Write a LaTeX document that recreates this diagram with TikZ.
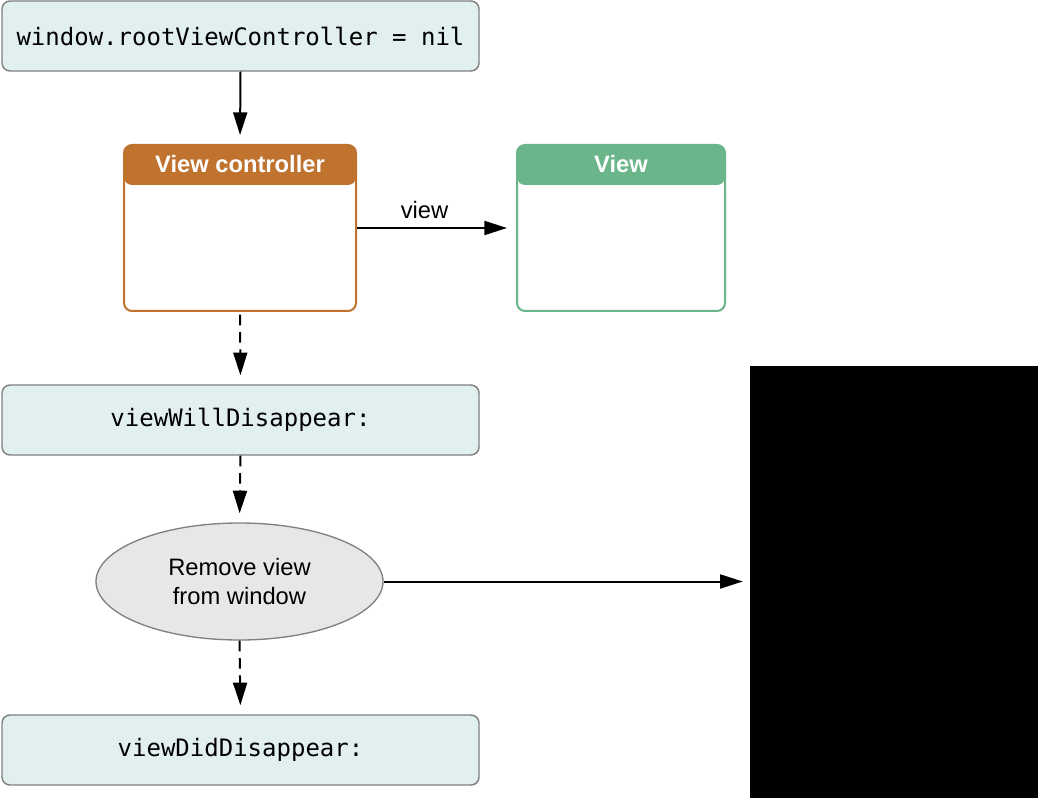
\documentclass[tikz,border=0pt]{standalone}
\usepackage{fontspec}
\setmainfont{Liberation Sans}
\setmonofont{DejaVu Sans Mono}
\usetikzlibrary{arrows.meta,shapes.geometric}

\definecolor{callfill}{HTML}{E2EFEF}
\definecolor{callline}{HTML}{808080}
\definecolor{vcorange}{HTML}{C0722F}
\definecolor{viewgreen}{HTML}{6BB58A}
\definecolor{removefill}{HTML}{E6E7E6}

\begin{document}
\begin{tikzpicture}[x=0.75pt, y=-0.75pt, line join = round,
    call/.style={draw=callline, fill=callfill, line width=1.1pt, rounded corners=6pt,
        minimum width=357.75pt, minimum height=52.5pt, inner sep=0pt,
        font=\fontsize{18}{21}\selectfont\ttfamily},
    objbox/.style={draw=#1, line width=1.5pt, rounded corners=6pt, minimum height=124.5pt,
        inner sep=0pt,
        path picture={\fill[#1] (path picture bounding box.north west)
            rectangle ([yshift=-30pt]path picture bounding box.north east);}},
    objtitle/.style={text=white, font=\fontsize{17.8}{21}\selectfont\bfseries},
    arrow/.style={-{Triangle[length=17pt, width=10.5pt]}, line width=1.5pt, shorten >=6.75pt},
    dasharrow/.style={arrow, dash pattern=on 8pt off 5pt}]
    \useasboundingbox (0,0) rectangle (1038,798);

    \node[call] (root) at (240.5,36) {window.rootViewController = nil};

    \node[objbox=vcorange, minimum width=174pt] (vc) at (240,228) {};
    \node[objtitle] (vctitle) at ([yshift=-15pt]vc.north) {View controller};
    \node[objbox=viewgreen, minimum width=156pt] (view) at (621,228) {};
    \node[objtitle] (viewtitle) at ([yshift=-15pt]view.north) {View};

    \node[call] (willdis) at (240.5,420) {viewWillDisappear:};
    \node[ellipse, draw=callline, fill=removefill, line width=1pt, minimum width=215.25pt,
        minimum height=87.75pt, inner sep=0pt, align=center,
        font=\fontsize{17.8}{22}\selectfont] (remove) at (239.5,581.5) {Remove view\\from window};
    \node[call] (diddis) at (240.5,750) {viewDidDisappear:};

    \node[fill=black, minimum width=216pt, minimum height=324pt, inner sep=0pt] (shot) at (894,582) {};

    \draw[arrow] (root.south) -- (vc.north);
    \draw[arrow] (vc.east) -- (view.west)
        node[midway, above=3pt, xshift=-9pt, font=\fontsize{17.8}{21}\selectfont] {view};
    \draw[dasharrow] ([yshift=-2pt]vc.south) -- (willdis.north);
    \draw[dasharrow] (willdis.south) -- (remove.north);
    \draw[dasharrow] (remove.south) -- (diddis.north);
    \draw[arrow, shorten >=5.25pt] (remove.east) -- (remove.east -| shot.west);
\end{tikzpicture}
\end{document}
